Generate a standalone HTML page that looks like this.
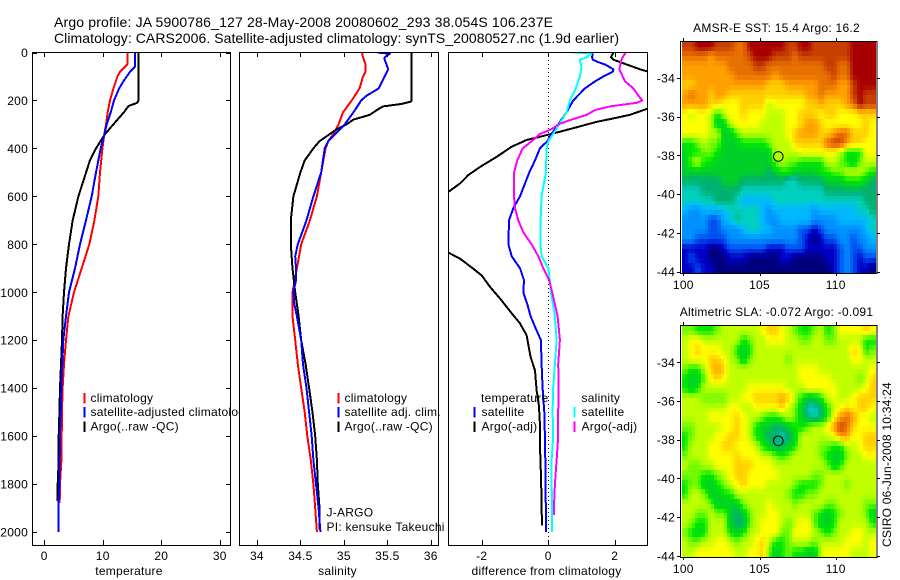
<!DOCTYPE html>
<html>
<head>
<meta charset="utf-8">
<title>Argo profile</title>
<style>
html,body{margin:0;padding:0;background:#fff;}
svg{display:block;}
text{font-family:"Liberation Sans",sans-serif;font-size:12px;fill:#000;letter-spacing:.25px;}
.title{font-size:14px;letter-spacing:0;}
</style>
</head>
<body>
<svg id="chart" xmlns="http://www.w3.org/2000/svg" width="900" height="580" viewBox="0 0 900 580">
<rect x="0" y="0" width="900" height="580" fill="#fff"/>
<defs>
<clipPath id="clip-temp"><rect x="33" y="52" width="198" height="493"/></clipPath>
<clipPath id="clip-sal"><rect x="240" y="52" width="199" height="493"/></clipPath>
<clipPath id="clip-diff"><rect x="449" y="52" width="199" height="493"/></clipPath>
</defs>
<text class="title" x="54" y="27" textLength="499">Argo profile: JA 5900786_127 28-May-2008 20080602_293 38.054S 106.237E</text>
<text class="title" x="54" y="43" textLength="565">Climatology: CARS2006. Satellite-adjusted climatology: synTS_20080527.nc (1.9d earlier)</text>

<g id="panel-temp"></g>
<g id="panel-sal"></g>
<g id="panel-diff"></g>
<g id="map-sst"></g>
<g id="map-sla"></g>

<text x="776.5" y="32" text-anchor="middle">AMSR-E SST: 15.4 Argo: 16.2</text>
<text x="776.5" y="316" text-anchor="middle">Altimetric SLA: -0.072 Argo: -0.091</text>
<text transform="translate(891,547) rotate(-90)" textLength="165">CSIRO 06-Jun-2008 10:34:24</text>
</svg>
<script>
// ---------- axis domains and ticks ----------
const depthTicks = [0,200,400,600,800,1000,1200,1400,1600,1800,2000];
const tempTicks = [0,10,20,30];
const salTicks = [34,34.5,35,35.5,36];
const salTickLabels = ['34','34.5','35','35.5','36'];
const diffTicks = [-2,0,2];
const lonTicks = [100,105,110];
const latTicks = [34,36,38,40,42,44];

// ---------- temperature profiles ----------
const tempClimDepth = [0,20,50,60,80,100,150,200,250,300,340,400,500,600,700,800,900,1000,1100,1200,1300,1400,1500,1600,1700,1800,1880];
const tempClimValue = [14.2,14.2,14.2,13.8,12.96,12.5,11.82,11.24,10.85,10.56,10.28,9.94,9.54,9.25,8.57,7.71,6.4,5.09,4.13,3.73,3.38,3.15,3.04,2.99,2.93,2.7,2.64];
const tempSatDepth = [0,20,60,80,100,120,150,200,250,300,340,400,500,600,700,800,900,1000,1100,1200,1300,1400,1500,1600,1700,1800,1900,2000];
const tempSatValue = [15.47,15.47,15.47,14.67,14.1,13.53,12.79,11.93,11.36,10.68,10.28,9.65,8.85,8.11,7.14,6.12,5.26,4.24,3.73,3.27,3.1,2.93,2.82,2.7,2.64,2.59,2.42,2.42];
const tempArgoDepth = [0,200,210,223,250,300,340,400,450,500,600,700,800,900,1000,1100,1200,1300,1400,1500,1600,1700,1800,1870];
const tempArgoValue = [16.09,16.09,15.9,14.4,13.6,11.8,10.4,8.85,7.8,7.15,5.84,4.87,4.24,3.73,3.38,3.15,3.04,2.87,2.7,2.59,2.47,2.47,2.3,2.3];

// ---------- salinity profiles ----------
const salClimDepth = [0,20,50,80,100,150,200,250,300,340,370,400,500,600,700,800,900,1000,1100,1200,1300,1400,1500,1600,1700,1800,1900,2000];
const salClimValue = [35.21,35.22,35.25,35.25,35.22,35.18,35.09,34.99,34.94,34.88,34.82,34.79,34.74,34.69,34.61,34.51,34.46,34.41,34.41,34.44,34.47,34.51,34.55,34.58,34.62,34.65,34.67,34.69];
const salSatDepth = [0,5,20,30,50,70,100,150,180,200,250,300,340,370,400,500,600,700,800,850,900,950,1000,1050,1100,1200,1300,1400,1500,1600,1700,1800,1900,2000];
const salSatValue = [35.38,35.53,35.47,35.47,35.49,35.51,35.47,35.4,35.26,35.2,35.11,35.01,34.9,34.82,34.78,34.74,34.65,34.57,34.47,34.44,34.45,34.45,34.42,34.43,34.46,34.51,34.53,34.57,34.6,34.63,34.65,34.68,34.71,34.73];
const salArgoDepth = [0,200,205,215,225,240,260,280,300,320,340,370,400,450,500,600,700,800,900,1000,1100,1200,1300,1400,1500,1600,1700,1800,1900,1990];
const salArgoValue = [35.78,35.78,35.77,35.66,35.45,35.38,35.3,35.11,35.03,34.92,34.84,34.72,34.65,34.55,34.5,34.42,34.39,34.39,34.41,34.44,34.48,34.51,34.56,34.6,34.64,34.67,34.69,34.7,34.72,34.72];

// ---------- difference profiles ----------
const diffTempSatDepth = [0,20,30,40,50,70,80,100,120,150,200,250,300,340,370,400,450,500,600,650,700,800,850,900,950,1000,1050,1100,1150,1200,1300,1400,1500,1600,1700,1800,1900,2000];
const diffTempSatValue = [1.34,1.32,1.34,1.5,1.71,1.96,1.94,1.66,1.41,1.1,0.75,0.55,0.3,0.1,-0.03,-0.25,-0.4,-0.57,-0.85,-1.05,-1.18,-1.2,-1.1,-0.85,-0.73,-0.75,-0.63,-0.53,-0.38,-0.22,-0.2,-0.17,-0.12,-0.1,-0.09,-0.09,-0.07,-0.07];
const diffTempArgoDepth = [0,20,30,50,70,80,100,150,200,210,233,260,275,289,312,338,365,393,435,477,511,546,581,600,700,800,835,860,902,930,978,1026,1088,1130,1179,1270,1326,1409,1472,1549,1632,1757,1876,1973];
const diffTempArgoValue = [1.96,1.89,1.96,2.36,2.76,3.01,3.6,4.3,4.8,4.7,3.01,2.46,1.96,1.46,0.85,0.15,-0.65,-1.1,-1.55,-2.05,-2.4,-2.65,-3,-3.1,-3.6,-3.3,-3,-2.65,-2.25,-2,-1.75,-1.45,-1.1,-0.85,-0.65,-0.53,-0.4,-0.35,-0.28,-0.25,-0.25,-0.22,-0.2,-0.19];
const diffSalSatDepth = [0,3,20,30,60,100,150,200,250,300,340,370,400,500,600,700,800,850,900,950,1000,1100,1200,1300,1400,1500,1600,1700,1800,1900,2000];
const diffSalSatValue = [0.7,1.3,1.16,0.95,1,0.95,0.83,0.65,0.55,0.33,0.15,0,-0.05,-0.07,-0.2,-0.23,-0.24,-0.2,0,0.05,0.08,0.2,0.25,0.2,0.15,0.13,0.15,0.1,0.1,0.12,0.12];
const diffSalArgoDepth = [0,20,30,50,70,100,120,150,180,200,210,225,240,260,280,300,320,340,370,400,450,500,600,650,700,750,800,850,900,950,1000,1050,1100,1200,1300,1400,1500,1600,1700,1800,1900,1930];
const diffSalArgoValue = [2.33,2.24,2.2,2.17,2.14,2.24,2.31,2.56,2.71,2.83,2.66,1.86,1.41,1.16,0.7,0.3,0.1,-0.25,-0.5,-0.77,-0.93,-1.03,-1.03,-1,-0.9,-0.75,-0.5,-0.3,-0.15,0.03,0.12,0.2,0.28,0.35,0.3,0.31,0.3,0.3,0.25,0.2,0.17,0.17];

// ---------- map grids: colour-scale level per cell, rows north to south ----------
const sstLevels = [
[15,15,16,16,16,15,15,15,14,14,16,16,16,16,16,16,15,15,16,16,15,15,15,15,15,15,16,16,16,16],
[14,14,14,14,13,14,14,14,14,14,15,16,16,16,15,15,15,14,15,15,15,15,15,15,15,15,16,16,16,16],
[13,13,13,13,13,13,13,14,14,14,14,15,15,14,14,14,14,14,14,14,14,14,15,15,14,14,16,16,16,16],
[13,13,13,13,13,13,13,13,14,14,14,14,14,14,13,14,14,14,14,14,14,14,14,15,14,14,16,16,16,16],
[12,12,13,13,13,13,13,13,13,13,13,13,13,12,12,12,13,13,13,13,13,14,14,14,13,13,15,16,16,16],
[13,14,13,13,12,13,13,12,12,12,12,12,12,12,12,12,12,12,12,13,13,14,13,13,13,13,15,16,15,15],
[13,13,13,13,12,12,11,11,11,12,12,12,12,10,11,11,11,11,11,12,12,13,12,12,12,13,14,16,15,15],
[11,10,11,11,10,8,10,11,11,12,11,11,11,10,10,10,11,11,12,12,12,11,12,12,11,11,11,12,12,12],
[11,11,11,11,10,7,7,10,11,11,11,11,10,10,10,10,11,11,12,13,13,12,11,11,11,11,11,11,12,11],
[11,11,11,11,10,10,7,7,9,10,10,10,10,10,10,10,11,12,13,13,13,12,12,13,14,14,12,12,12,11],
[8,8,9,10,9,9,7,7,7,8,8,8,8,9,10,10,10,12,12,12,12,12,14,15,15,13,12,12,11,11],
[7,8,8,9,9,8,7,7,7,7,7,7,7,7,10,10,10,10,11,11,11,11,11,11,10,8,8,8,11,11],
[7,9,10,8,8,7,7,7,7,7,7,7,7,7,9,10,9,9,8,8,8,8,10,10,9,8,7,9,10,10],
[7,7,7,7,7,7,7,7,7,7,7,7,7,6,7,8,8,7,7,7,7,8,8,9,9,10,10,10,9,8],
[6,6,6,6,6,6,7,7,7,6,6,6,6,6,6,6,5,5,6,6,6,6,7,7,7,8,8,8,7,6],
[5,5,5,6,6,6,6,6,6,5,5,5,5,5,5,5,5,5,5,5,5,5,6,6,6,6,6,6,6,6],
[5,5,5,5,5,6,6,6,5,4,4,4,4,4,5,5,5,5,5,5,5,5,5,5,5,5,5,5,6,6],
[4,3,3,4,4,4,4,5,5,5,5,5,4,3,4,4,4,4,4,4,3,4,4,4,4,4,4,5,5,6],
[3,3,3,3,2,2,4,4,6,5,5,5,4,3,3,4,4,4,4,4,3,3,3,3,4,4,4,4,4,5],
[3,3,3,3,2,2,3,3,3,4,5,5,4,4,3,3,3,3,2,2,1,2,3,3,3,3,3,3,4,5],
[3,3,2,2,2,2,2,3,3,3,3,3,3,3,3,3,3,3,2,1,0,1,2,2,3,3,2,3,3,4],
[1,1,1,1,0,0,1,2,2,2,2,2,2,1,1,1,2,2,2,1,1,1,1,1,2,3,2,2,3,3],
[1,2,1,1,0,0,0,1,1,1,0,0,0,0,0,1,1,0,0,0,0,0,1,1,2,3,2,1,2,2],
[1,1,2,1,1,0,0,0,0,0,0,0,0,0,0,0,0,0,0,0,0,0,0,1,2,3,2,1,1,0]
];
const slaLevels = [
[9,9,8,8,8,9,10,10,10,10,10,10,11,12,12,11,10,9,8,8,9,10,8,9,11,11,11,11,12,11],
[10,11,11,10,10,10,10,10,10,8,9,10,10,11,11,11,10,10,9,9,10,10,9,9,10,10,10,10,8,8],
[10,11,12,11,11,11,10,10,8,7,8,10,10,10,10,10,10,10,10,10,10,10,10,10,10,10,12,11,8,9],
[10,11,11,11,12,12,11,10,9,7,9,10,10,10,10,10,9,10,10,10,10,10,10,10,10,10,11,11,10,10],
[9,8,8,10,12,13,12,10,10,10,10,10,10,10,10,10,10,10,11,11,11,10,10,10,10,10,10,10,10,11],
[8,7,7,9,11,12,11,10,10,10,10,10,10,10,10,10,10,10,11,11,11,11,11,10,10,10,10,9,10,12],
[8,7,8,10,10,10,10,10,10,10,11,11,11,11,11,11,10,10,10,11,11,11,11,11,10,10,10,10,11,12],
[10,10,10,9,9,9,9,10,10,11,11,12,12,12,12,13,12,10,8,7,7,8,10,11,10,10,11,12,12,12],
[10,10,10,10,10,10,10,11,11,10,10,11,11,11,11,12,10,9,7,5,5,6,8,10,11,12,11,12,12,11],
[10,10,10,10,11,11,11,11,12,11,10,10,9,8,8,9,10,9,7,6,5,6,8,11,13,14,13,11,11,10],
[9,9,10,10,10,10,11,11,12,11,10,8,7,7,6,6,7,8,8,9,10,10,11,13,15,14,12,11,11,11],
[8,9,10,10,10,11,11,12,12,11,10,8,7,6,6,5,6,7,10,10,10,10,10,11,13,13,11,11,12,12],
[8,10,10,10,11,11,12,12,11,11,11,10,8,7,6,6,7,8,10,10,10,9,9,8,8,10,10,11,12,12],
[9,10,10,10,11,11,11,11,12,11,11,11,10,10,9,8,9,10,10,10,10,9,8,7,7,9,10,10,11,11],
[10,9,9,10,10,11,11,11,12,12,12,11,11,11,10,10,10,10,10,10,10,10,9,7,8,10,10,10,10,10],
[9,9,9,8,8,9,10,11,12,12,11,11,11,11,11,10,10,10,10,10,9,9,10,10,10,10,10,10,10,10],
[8,9,9,7,7,8,9,10,11,12,11,11,11,10,10,10,10,9,8,8,8,9,10,10,10,9,10,10,10,10],
[8,10,10,9,7,7,8,8,10,10,10,10,10,10,10,10,9,8,8,9,9,10,10,10,10,10,10,10,10,10],
[10,10,10,10,9,7,7,7,7,9,10,10,10,11,10,10,10,9,10,10,10,10,9,9,10,10,10,10,9,9],
[10,10,9,9,10,9,9,7,6,7,9,10,10,11,11,10,10,10,10,10,9,8,7,8,9,10,10,10,9,7],
[10,9,8,8,10,10,10,7,6,6,9,10,11,11,11,10,9,10,11,11,9,7,7,8,10,10,10,10,10,8],
[9,8,7,8,10,10,10,8,7,8,10,10,11,11,11,9,9,11,11,11,10,9,8,9,10,10,11,11,10,10],
[10,9,9,10,10,11,11,10,9,10,10,11,12,10,8,8,9,10,10,10,9,10,10,10,10,11,11,11,10,11],
[10,10,11,11,11,11,11,11,10,10,11,11,12,9,7,8,9,8,8,7,7,10,11,11,11,11,10,10,10,11]
];
const profileLon = [106.237];
const profileLat = [38.054];
const levelColors = ['#00007f','#0000c8','#0050f0','#0090ff','#00b8ff','#00d0c0','#00b070','#00d028','#00e800','#70fa00','#c0ff00','#ffff00','#ffd000','#ff9f00','#e87000','#c84000','#a80000'];

// ---------- helpers ----------
const NS = 'http://www.w3.org/2000/svg';
function mk(tag, parent, attrs, txt) {
  const el = document.createElementNS(NS, tag);
  for (const k in attrs) el.setAttribute(k, attrs[k]);
  if (txt !== undefined) el.textContent = txt;
  parent.appendChild(el);
  return el;
}
function linear(d0, d1, r0, r1) { return v => r0 + (v - d0) * (r1 - r0) / (d1 - d0); }

const depthY = linear(0, 2000, 52.5, 532);
const PANEL_TOP = 52, PANEL_BOTTOM = 545;

function drawFrame(g, box) {
  const bg = mk('rect', g, {x: box.l, y: PANEL_TOP, width: box.r - box.l, height: PANEL_BOTTOM - PANEL_TOP, fill: '#fff'});
  
  
}
function drawBorder(g, box) {
  const fr = mk('rect', g, {x: box.l + 0.5, y: PANEL_TOP + 0.5, width: box.r - box.l - 1, height: PANEL_BOTTOM - PANEL_TOP, fill: 'none', stroke: '#000', 'stroke-width': 1, 'shape-rendering': 'crispEdges'});
  
  
}
function drawXAxis(g, xs, ticks, labels, title, titleX) {
  ticks.forEach((t, i) => {
    const x = Math.round(xs(t)) + 0.5;
    const a = mk('line', g, {x1: x, x2: x, y1: PANEL_BOTTOM, y2: PANEL_BOTTOM - 5, stroke: '#000', 'shape-rendering': 'crispEdges'});
    
    
    const b = mk('line', g, {x1: x, x2: x, y1: PANEL_TOP, y2: PANEL_TOP + 5, stroke: '#000', 'shape-rendering': 'crispEdges'});
    
    
    const lb = mk('text', g, {x: xs(t), y: 560, 'text-anchor': 'middle'}, labels[i]);
    
    
  });
  const tt = mk('text', g, {x: titleX, y: 575, 'text-anchor': 'middle'}, title);
  
  
}
function drawLine(g, xs, depths, values, color, clip, name) {
  const pts = depths.map((d, i) => xs(values[i]).toFixed(1) + ',' + depthY(d).toFixed(1)).join(' ');
  const p = mk('polyline', g, {points: pts, fill: 'none', stroke: color, 'stroke-width': 2, 'stroke-linejoin': 'round', 'clip-path': 'url(#' + clip + ')', 'shape-rendering': 'crispEdges'});
  
  
}
function drawLegend(g, items) {
  items.forEach(it => {
    if (it.color) {
      const s = mk('rect', g, {x: it.sx, y: it.y - 9, width: 2, height: 10.5, fill: it.color, 'shape-rendering': 'crispEdges'});
      
      
    }
    const t = mk('text', g, {x: it.tx, y: it.y}, it.text);
    
    
  });
}

// ---------- temperature panel ----------
(function () {
  const g = document.getElementById('panel-temp');
  const box = {l: 32, r: 231};
  const xs = linear(-2, 32, 32.5, 231.5);
  drawFrame(g, box);
  drawLine(g, xs, tempClimDepth, tempClimValue, '#ff0000', 'clip-temp', 'temperature-climatology-line');
  drawLine(g, xs, tempArgoDepth, tempArgoValue, '#000000', 'clip-temp', 'temperature-argo-line');
  drawLine(g, xs, tempSatDepth, tempSatValue, '#0000ff', 'clip-temp', 'temperature-satellite-line');
  depthTicks.forEach(d => {
    const y = Math.round(depthY(d)) + 0.5;
    const a = mk('line', g, {x1: 32, x2: 37, y1: y, y2: y, stroke: '#000', 'shape-rendering': 'crispEdges'});
    
    
    const b = mk('line', g, {x1: 231, x2: 226, y1: y, y2: y, stroke: '#000', 'shape-rendering': 'crispEdges'});
    
    
    const t = mk('text', g, {x: 28, y: depthY(d) + 4.5, 'text-anchor': 'end'}, String(d));
    
    
  });
  drawBorder(g, box);
  drawXAxis(g, xs, tempTicks, tempTicks.map(String), 'temperature', 129);
  drawLegend(g, [
    {sx: 83.5, tx: 90.5, y: 402, color: '#ff0000', text: 'climatology'},
    {sx: 83.5, tx: 90.5, y: 416, color: '#0000ff', text: 'satellite-adjusted climatology'},
    {sx: 83.5, tx: 90.5, y: 430.5, color: '#000000', text: 'Argo(..raw -QC)'}
  ]);
})();

// ---------- salinity panel ----------
(function () {
  const g = document.getElementById('panel-sal');
  const box = {l: 239, r: 439};
  const xs = linear(33.8, 36.1, 239.5, 439.5);
  drawFrame(g, box);
  drawLine(g, xs, salClimDepth, salClimValue, '#ff0000', 'clip-sal', 'salinity-climatology-line');
  drawLine(g, xs, salArgoDepth, salArgoValue, '#000000', 'clip-sal', 'salinity-argo-line');
  drawLine(g, xs, salSatDepth, salSatValue, '#0000ff', 'clip-sal', 'salinity-satellite-line');
  drawBorder(g, box);
  drawXAxis(g, xs, salTicks, salTickLabels, 'salinity', 337.5);
  drawLegend(g, [
    {sx: 337.5, tx: 344.5, y: 402, color: '#ff0000', text: 'climatology'},
    {sx: 337.5, tx: 344.5, y: 416, color: '#0000ff', text: 'satellite adj. clim.'},
    {sx: 337.5, tx: 344.5, y: 430.5, color: '#000000', text: 'Argo(..raw -QC)'},
    {tx: 326.5, y: 516.5, text: 'J-ARGO'},
    {tx: 326.5, y: 531, text: 'PI: kensuke Takeuchi'}
  ]);
})();

// ---------- difference panel ----------
(function () {
  const g = document.getElementById('panel-diff');
  const box = {l: 448, r: 648};
  const xs = linear(-3, 3, 448.5, 648);
  drawFrame(g, box);
  const z = mk('line', g, {x1: Math.round(xs(0)) + 0.5, x2: Math.round(xs(0)) + 0.5, y1: PANEL_TOP, y2: PANEL_BOTTOM, stroke: '#000', 'stroke-dasharray': '1 3', 'shape-rendering': 'crispEdges'});
  
  
  drawLine(g, xs, diffTempArgoDepth, diffTempArgoValue, '#000000', 'clip-diff', 'difference-temperature-argo-line');
  drawLine(g, xs, diffTempSatDepth, diffTempSatValue, '#0000ff', 'clip-diff', 'difference-temperature-satellite-line');
  drawLine(g, xs, diffSalSatDepth, diffSalSatValue, '#00ffff', 'clip-diff', 'difference-salinity-satellite-line');
  drawLine(g, xs, diffSalArgoDepth, diffSalArgoValue, '#ff00ff', 'clip-diff', 'difference-salinity-argo-line');
  drawBorder(g, box);
  drawXAxis(g, xs, diffTicks, diffTicks.map(String), 'difference from climatology', 546.5);
  drawLegend(g, [
    {tx: 481, y: 402, text: 'temperature'},
    {sx: 473.5, tx: 481.5, y: 416, color: '#0000ff', text: 'satellite'},
    {sx: 473.5, tx: 481.5, y: 430.5, color: '#000000', text: 'Argo(-adj)'},
    {tx: 581.5, y: 402, text: 'salinity'},
    {sx: 573.5, tx: 581.5, y: 416, color: '#00ffff', text: 'satellite'},
    {sx: 573.5, tx: 581.5, y: 430.5, color: '#ff00ff', text: 'Argo(-adj)'}
  ]);
})();

// ---------- maps ----------
function levelColor(v) {
  const k = Math.max(0, Math.min(levelColors.length - 1.001, v));
  const i = Math.floor(k), f = k - i;
  const a = levelColors[i], b = levelColors[i + 1];
  const ch = p => Math.round(parseInt(a.substr(p, 2), 16) * (1 - f) + parseInt(b.substr(p, 2), 16) * f);
  return 'rgb(' + ch(1) + ',' + ch(3) + ',' + ch(5) + ')';
}
function sampleGrid(levels, u, v) {
  const nR = levels.length, nC = levels[0].length;
  const uu = Math.max(0, Math.min(nR - 1, u)), vv = Math.max(0, Math.min(nC - 1, v));
  const r0 = Math.floor(uu), c0 = Math.floor(vv);
  const r1 = Math.min(nR - 1, r0 + 1), c1 = Math.min(nC - 1, c0 + 1);
  const fr = uu - r0, fc = vv - c0;
  return (levels[r0][c0] * (1 - fc) + levels[r0][c1] * fc) * (1 - fr) + (levels[r1][c0] * (1 - fc) + levels[r1][c1] * fc) * fr;
}
function drawMap(g, levels, frameTop, frameBottom, lat34Y, labelBaseline, cellName) {
  const lonX = linear(100, 110, 683.3, 835.7);
  const latY = linear(34, 44, lat34Y, lat34Y + 193.6);
  const lonLeft = 99.91, lonRight = 112.64;
  const latTop = 34 + (frameTop + 0.7 - lat34Y) / 19.36;
  const latBottom = 34 + (frameBottom - 0.3 - lat34Y) / 19.36;
  const nRows = levels.length, nCols = levels[0].length;
  const dLon = (lonRight - lonLeft) / nCols, dLat = (latBottom - latTop) / nRows;
  const SUB = 2;
  for (let r = 0; r < nRows * SUB; r++) {
    for (let c = 0; c < nCols * SUB; c++) {
      const x0 = Math.round(lonX(lonLeft + c * dLon / SUB)), x1 = Math.round(lonX(lonLeft + (c + 1) * dLon / SUB));
      const y0 = Math.round(latY(latTop + r * dLat / SUB)), y1 = Math.round(latY(latTop + (r + 1) * dLat / SUB));
      const val = sampleGrid(levels, (r + 0.5) / SUB - 0.5, (c + 0.5) / SUB - 0.5);
      const cell = mk('rect', g, {x: x0, y: y0, width: x1 - x0, height: y1 - y0, fill: levelColor(val), 'shape-rendering': 'crispEdges'});
      
      
    }
  }
  const fr = mk('rect', g, {x: 680.5, y: frameTop + 0.5, width: 196.5, height: frameBottom - frameTop, fill: 'none', stroke: '#000', 'shape-rendering': 'crispEdges'});
  
  
  lonTicks.forEach(t => {
    const x = Math.round(lonX(t)) + 0.5;
    const a = mk('line', g, {x1: x, x2: x, y1: frameTop, y2: frameTop - 3, stroke: '#000', 'shape-rendering': 'crispEdges'});
    
    
    const b = mk('line', g, {x1: x, x2: x, y1: frameBottom, y2: frameBottom + 3, stroke: '#000', 'shape-rendering': 'crispEdges'});
    
    
    const l = mk('text', g, {x: lonX(t), y: labelBaseline, 'text-anchor': 'middle'}, String(t));
    
    
  });
  latTicks.forEach(t => {
    const y = Math.round(latY(t)) + 0.5;
    const a = mk('line', g, {x1: 680, x2: 677, y1: y, y2: y, stroke: '#000', 'shape-rendering': 'crispEdges'});
    
    
    const b = mk('line', g, {x1: 877, x2: 880, y1: y, y2: y, stroke: '#000', 'shape-rendering': 'crispEdges'});
    
    
    const l = mk('text', g, {x: 675, y: latY(t) + 4.5, 'text-anchor': 'end'}, '-' + t);
    
    
  });
  const markVal = sampleGrid(levels, (profileLat[0] - latTop) / dLat - 0.5, (profileLon[0] - lonLeft) / dLon - 0.5);
  const mark = mk('circle', g, {cx: lonX(profileLon[0]), cy: latY(profileLat[0]), r: 4.8, fill: levelColor(markVal), stroke: '#000', 'stroke-width': 1});
  
  
}
drawMap(document.getElementById('map-sst'), sstLevels, 41, 273, 78, 289, 'sst-cell');
drawMap(document.getElementById('map-sla'), slaLevels, 325, 557, 362.3, 573, 'sla-cell');
</script>
</body>
</html>
